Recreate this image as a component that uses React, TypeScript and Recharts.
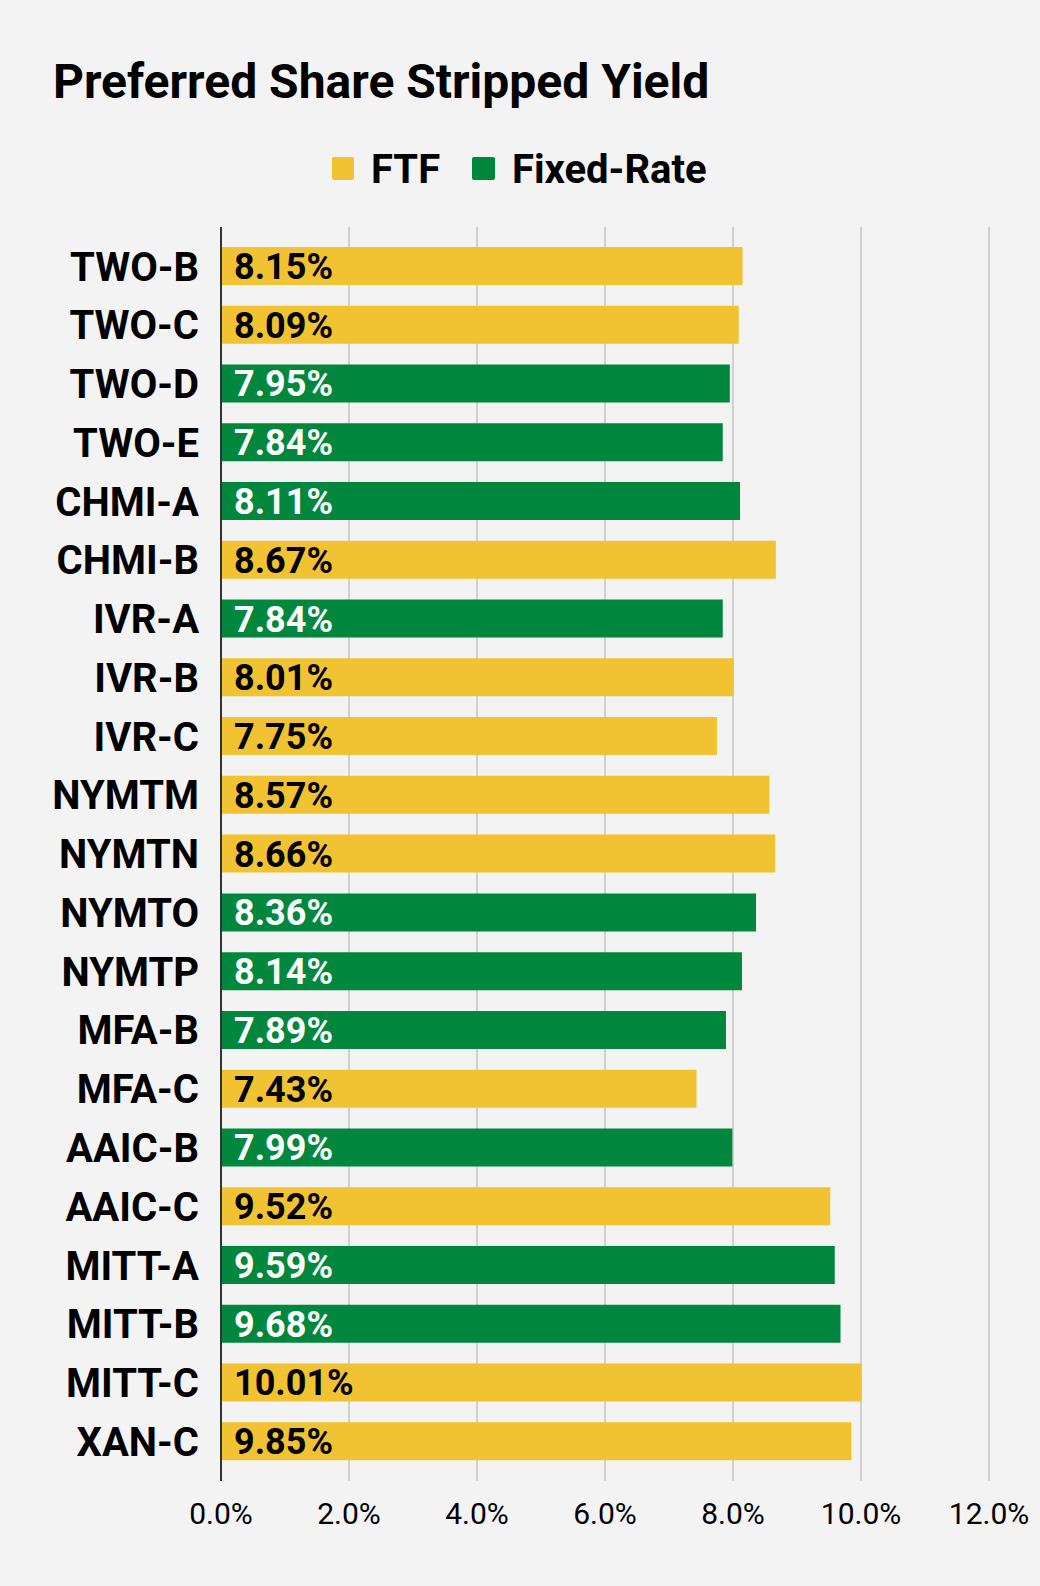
import { BarChart, Bar, Cell, XAxis, YAxis, CartesianGrid, ReferenceLine, LabelList } from 'recharts';

// 우선주 종목 / 수익률 / 구분
const tickers = [
    'TWO-B', 'TWO-C', 'TWO-D', 'TWO-E', 'CHMI-A', 'CHMI-B', 'IVR-A', 'IVR-B', 'IVR-C',
    'NYMTM', 'NYMTN', 'NYMTO', 'NYMTP', 'MFA-B', 'MFA-C', 'AAIC-B', 'AAIC-C',
    'MITT-A', 'MITT-B', 'MITT-C', 'XAN-C',
];
const yields = [
    8.15, 8.09, 7.95, 7.84, 8.11, 8.67, 7.84, 8.01, 7.75,
    8.57, 8.66, 8.36, 8.14, 7.89, 7.43, 7.99, 9.52,
    9.59, 9.68, 10.01, 9.85,
];
const kinds = [
    'FTF', 'FTF', 'Fixed-Rate', 'Fixed-Rate', 'Fixed-Rate', 'FTF', 'Fixed-Rate', 'FTF', 'FTF',
    'FTF', 'FTF', 'Fixed-Rate', 'Fixed-Rate', 'Fixed-Rate', 'FTF', 'Fixed-Rate', 'FTF',
    'Fixed-Rate', 'Fixed-Rate', 'FTF', 'FTF',
];
const xTicks = [0, 2, 4, 6, 8, 10, 12];
const legendItems = ['FTF', 'Fixed-Rate'];

const colors: Record<string, string> = {
    FTF: '#f1c232',
    'Fixed-Rate': '#00873e',
};

const data = tickers.map((name, i) => ({ name, value: yields[i], kind: kinds[i] }));

const font = 'Roboto, "Noto Sans", sans-serif';

if (typeof document !== 'undefined') {
    document.body.style.margin = '0';
}

// 막대 안쪽 라벨
const renderLabel = (props: any) => {
    const { x, y, height, value, index } = props;
    const fill = kinds[index] === 'FTF' ? '#000000' : '#ffffff';
    return (
        <text
            x={Number(x) + 13}
            y={Number(y) + Number(height) / 2}
            dy="0.36em"
            fill={fill}
            fontFamily={font}
            fontWeight={700}
            fontSize={36}
        >
            {Number(value).toFixed(2)}%
        </text>
    );
};

export default function App() {
    return (
        <div style={{ position: 'relative', width: 1040, height: 1586, background: '#f3f3f3', fontFamily: font }}>
            <svg width={1040} height={220} style={{ position: 'absolute', left: 0, top: 0 }}>
                <text x={53} y={98} fontFamily={font} fontWeight={700} fontSize={48} fill="#000">
                    Preferred Share Stripped Yield
                </text>
                <rect x={332} y={157} width={22} height={23} rx={2} fill={colors[legendItems[0]]} />
                <text x={371} y={183} fontFamily={font} fontWeight={700} fontSize={40} fill="#000">
                    {legendItems[0]}
                </text>
                <rect x={472} y={157} width={23} height={23} rx={2} fill={colors[legendItems[1]]} />
                <text x={512} y={183} fontFamily={font} fontWeight={700} fontSize={40} fill="#000">
                    {legendItems[1]}
                </text>
            </svg>
            <div style={{ position: 'absolute', left: 0, top: 0 }}>
                <BarChart
                    width={1040}
                    height={1586}
                    data={data}
                    layout="vertical"
                    margin={{ top: 227, right: 51, bottom: 55, left: 0 }}
                    barSize={38}
                >
                    <CartesianGrid horizontal={false} stroke="#c4c4c4" strokeWidth={1.5} />
                    <XAxis
                        type="number"
                        domain={[0, 12]}
                        ticks={xTicks}
                        tickFormatter={(v: number) => `${v.toFixed(1)}%`}
                        axisLine={false}
                        tickLine={false}
                        tickSize={0}
                        tickMargin={22}
                        height={50}
                        interval={0}
                        tick={{ fill: '#000', fontSize: 30, fontFamily: font }}
                    />
                    <YAxis
                        type="category"
                        dataKey="name"
                        width={221}
                        axisLine={false}
                        tickLine={false}
                        tickSize={0}
                        tickMargin={22}
                        interval={0}
                        padding={{ top: 10, bottom: 10 }}
                        tick={{ fill: '#000', fontSize: 40, fontWeight: 700, fontFamily: font }}
                    />
                    <Bar dataKey="value" isAnimationActive={false}>
                        {data.map((d, i) => (
                            <Cell key={i} fill={colors[d.kind]} />
                        ))}
                        <LabelList dataKey="value" content={renderLabel} />
                    </Bar>
                    <ReferenceLine x={0} stroke="#333333" strokeWidth={2} />
                </BarChart>
            </div>
        </div>
    );
}
